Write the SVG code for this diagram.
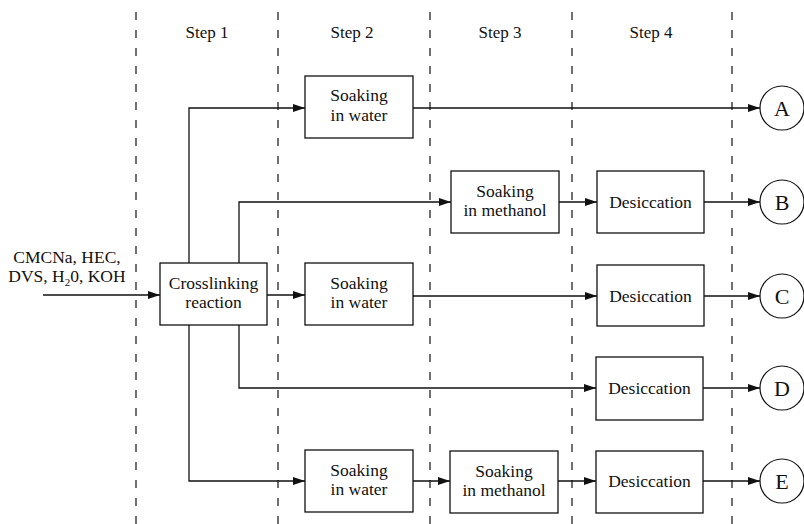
<svg xmlns="http://www.w3.org/2000/svg" width="804" height="524" viewBox="0 0 804 524">
<style>
text{font-family:"Liberation Serif","Times New Roman",serif;fill:#111;}
.lbl{font-size:17.5px;text-anchor:middle;}
.stp{font-size:17px;text-anchor:middle;}
.big{font-size:22px;text-anchor:middle;}
.box{fill:#fff;stroke:#111;stroke-width:1.3;}
.circ{fill:#fff;stroke:#111;stroke-width:1.2;}
.dash{stroke:#111;stroke-width:1.2;stroke-dasharray:8 10;fill:none;}
.con{stroke:#111;stroke-width:1.3;fill:none;}
</style>
<defs>
<marker id="arr" viewBox="0 0 12 8" refX="12" refY="4" markerWidth="12" markerHeight="8" markerUnits="userSpaceOnUse" orient="auto">
<path d="M0,0 L12,4 L0,8 z" fill="#111"/>
</marker>
</defs>
<g id="lanes">
<line class="dash" x1="136" y1="12" x2="136" y2="524"/>
<line class="dash" x1="278" y1="12" x2="278" y2="524"/>
<line class="dash" x1="430" y1="12" x2="430" y2="524"/>
<line class="dash" x1="572" y1="12" x2="572" y2="524"/>
<line class="dash" x1="732" y1="12" x2="732" y2="524"/>
<text class="stp" x="207" y="38">Step 1</text>
<text class="stp" x="352" y="38">Step 2</text>
<text class="stp" x="500" y="38">Step 3</text>
<text class="stp" x="651" y="38">Step 4</text>
</g>
<g id="connectors">
<line class="con" x1="43" y1="295" x2="160" y2="295" marker-end="url(#arr)"/>
<line class="con" x1="267" y1="295" x2="305" y2="295" marker-end="url(#arr)"/>
<polyline class="con" points="189,263 189,108 305,108" marker-end="url(#arr)"/>
<polyline class="con" points="189,325 189,481 305,481" marker-end="url(#arr)"/>
<polyline class="con" points="239,263 239,202 451,202" marker-end="url(#arr)"/>
<polyline class="con" points="239,325 239,388 596,388" marker-end="url(#arr)"/>
<line class="con" x1="413" y1="108" x2="760" y2="108" marker-end="url(#arr)"/>
<line class="con" x1="559" y1="202" x2="597" y2="202" marker-end="url(#arr)"/>
<line class="con" x1="704" y1="202" x2="760" y2="202" marker-end="url(#arr)"/>
<line class="con" x1="413" y1="296" x2="597" y2="296" marker-end="url(#arr)"/>
<line class="con" x1="704" y1="296" x2="760" y2="296" marker-end="url(#arr)"/>
<line class="con" x1="703" y1="388" x2="760" y2="388" marker-end="url(#arr)"/>
<line class="con" x1="413" y1="481" x2="450" y2="481" marker-end="url(#arr)"/>
<line class="con" x1="558" y1="481" x2="596" y2="481" marker-end="url(#arr)"/>
<line class="con" x1="703" y1="481" x2="760" y2="481" marker-end="url(#arr)"/>
</g>
<g id="input">
<text class="lbl" x="67" y="263">CMCNa, HEC,</text>
<text class="lbl" x="67" y="282">DVS, H<tspan font-size="11" dy="4">2</tspan><tspan dy="-4">0, KOH</tspan></text>
</g>
<g id="crosslinking">
<rect class="box" x="160" y="263" width="107" height="62"/>
<text class="lbl" x="213.5" y="289">Crosslinking</text>
<text class="lbl" x="213.5" y="308">reaction</text>
</g>
<g id="water1">
<rect class="box" x="305" y="76" width="108" height="62"/>
<text class="lbl" x="359" y="101">Soaking</text>
<text class="lbl" x="359" y="121">in water</text>
</g>
<g id="water2">
<rect class="box" x="305" y="263" width="108" height="62"/>
<text class="lbl" x="359" y="289">Soaking</text>
<text class="lbl" x="359" y="308">in water</text>
</g>
<g id="water3">
<rect class="box" x="305" y="450" width="108" height="62"/>
<text class="lbl" x="359" y="476">Soaking</text>
<text class="lbl" x="359" y="495">in water</text>
</g>
<g id="methanol1">
<rect class="box" x="451" y="171" width="108" height="62"/>
<text class="lbl" x="505" y="197">Soaking</text>
<text class="lbl" x="505" y="216">in methanol</text>
</g>
<g id="methanol2">
<rect class="box" x="450" y="451" width="108" height="62"/>
<text class="lbl" x="504" y="477">Soaking</text>
<text class="lbl" x="504" y="496">in methanol</text>
</g>
<g id="desic1">
<rect class="box" x="597" y="171" width="107" height="62"/>
<text class="lbl" x="650.5" y="208">Desiccation</text>
</g>
<g id="desic2">
<rect class="box" x="597" y="265" width="107" height="61"/>
<text class="lbl" x="650.5" y="302">Desiccation</text>
</g>
<g id="desic3">
<rect class="box" x="596" y="357" width="107" height="63"/>
<text class="lbl" x="649.5" y="394">Desiccation</text>
</g>
<g id="desic4">
<rect class="box" x="596" y="451" width="107" height="62"/>
<text class="lbl" x="649.5" y="487">Desiccation</text>
</g>
<g id="A"><circle class="circ" cx="782" cy="108" r="22"/><text class="big" x="782" y="116">A</text></g>
<g id="B"><circle class="circ" cx="782" cy="202" r="22"/><text class="big" x="782" y="210">B</text></g>
<g id="C"><circle class="circ" cx="782" cy="296" r="22"/><text class="big" x="782" y="304">C</text></g>
<g id="D"><circle class="circ" cx="782" cy="388" r="22"/><text class="big" x="782" y="396">D</text></g>
<g id="E"><circle class="circ" cx="782" cy="481" r="22"/><text class="big" x="782" y="489">E</text></g>
</svg>
